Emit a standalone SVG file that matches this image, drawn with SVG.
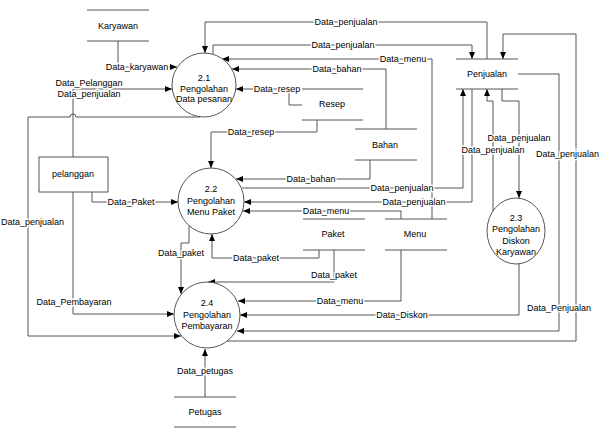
<svg xmlns="http://www.w3.org/2000/svg" width="600" height="434" viewBox="0 0 600 434">
<style>
text{font-family:"Liberation Sans",Arial,sans-serif;font-size:9px;fill:#000;text-anchor:middle}
.lbl{paint-order:stroke;stroke:#fff;stroke-width:3px;stroke-linejoin:round}
.c{fill:none;stroke:#555;stroke-width:1}
.p{fill:#fff;stroke:#555;stroke-width:1}
.s{stroke:#555;stroke-width:1}
</style>
<defs>
<marker id="a" markerUnits="userSpaceOnUse" markerWidth="8" markerHeight="8" viewBox="0 0 8 8" refX="7" refY="4" orient="auto">
<path d="M0,1 L7,4 L0,7 Z" fill="#000"/>
</marker>
</defs>
<rect width="600" height="434" fill="#fff"/>
<g id="connectors">
<path class="c" marker-end="url(#a)" d="M118,41 V67 H177"/>
<path class="c" marker-end="url(#a)" d="M73,157 V89 H172"/>
<path class="c" marker-end="url(#a)" d="M200,117 H76 A3,3 0 0 0 70,117 H28 V336 H181"/>
<path class="c" marker-end="url(#a)" d="M73,192 V314 H174"/>
<path class="c" marker-end="url(#a)" d="M92,192 V202 H178"/>
<path class="c" marker-end="url(#a)" d="M487,59 V22 H205 V53"/>
<path class="c" marker-end="url(#a)" d="M213,54 V45 H472 V59"/>
<path class="c" marker-end="url(#a)" d="M432,219 V59 H222"/>
<path class="c" marker-end="url(#a)" d="M386,129 V69 H232"/>
<path class="c" marker-end="url(#a)" d="M302,105 H289 V89 H236"/>
<path class="c" marker-end="url(#a)" d="M317,120 V132 H211 V168"/>
<path class="c" marker-end="url(#a)" d="M370,160 V179 H236"/>
<path class="c" marker-end="url(#a)" d="M242,188 H463 V89"/>
<path class="c" marker-end="url(#a)" d="M472,89 V202 H244"/>
<path class="c" marker-end="url(#a)" d="M401,219 V211 H243"/>
<path class="c" marker-end="url(#a)" d="M319,250 V258 H212 V234"/>
<path class="c" marker-end="url(#a)" d="M334,250 V282 H208"/>
<path class="c" marker-end="url(#a)" d="M189,226 V243 H181 V294"/>
<path class="c" marker-end="url(#a)" d="M401,250 V301 H238"/>
<path class="c" marker-end="url(#a)" d="M519,264 V315 H240"/>
<path class="c" marker-end="url(#a)" d="M518,74 H559 V331 H237"/>
<path class="c" marker-end="url(#a)" d="M227,341 H576 V34 H503 V59"/>
<path class="c" marker-end="url(#a)" d="M502,89 V101 H519 V198"/>
<path class="c" marker-end="url(#a)" d="M493,214 V101 H487 V89"/>
<path class="c" marker-end="url(#a)" d="M205,397 V349"/>
<text class="lbl" x="137" y="70">Data_karyawan</text>
<text class="lbl" x="89" y="86">Data_Pelanggan</text>
<text class="lbl" x="89" y="97">Data_penjualan</text>
<text class="lbl" x="1" y="225" style="text-anchor:start">Data_penjualan</text>
<text class="lbl" x="74" y="305">Data_Pembayaran</text>
<text class="lbl" x="131" y="205">Data_Paket</text>
<text class="lbl" x="346" y="25">Data_penjualan</text>
<text class="lbl" x="343" y="48">Data_penjualan</text>
<text class="lbl" x="403" y="62">Data_menu</text>
<text class="lbl" x="337" y="72">Data_bahan</text>
<text class="lbl" x="277" y="92">Data_resep</text>
<text class="lbl" x="251" y="135">Data_resep</text>
<text class="lbl" x="311" y="182">Data_bahan</text>
<text class="lbl" x="402" y="191">Data_penjualan</text>
<text class="lbl" x="414" y="205">Data_penjualan</text>
<text class="lbl" x="326" y="214">Data_menu</text>
<text class="lbl" x="256" y="261">Data_paket</text>
<text class="lbl" x="334" y="278">Data_paket</text>
<text class="lbl" x="181" y="256">Data_paket</text>
<text class="lbl" x="340" y="304">Data_menu</text>
<text class="lbl" x="402" y="318">Data_Diskon</text>
<text class="lbl" x="559" y="311">Data_Penjualan</text>
<text class="lbl" x="599" y="157" style="text-anchor:end">Data_penjualan</text>
<text class="lbl" x="519" y="141">Data_penjualan</text>
<text class="lbl" x="493" y="153">Data_penjualan</text>
<text class="lbl" x="205" y="374">Data_petugas</text>
</g>
<g id="p2_1">
<circle class="p" cx="204" cy="85" r="32"/>
<text x="204" y="81">2.1</text>
<text x="204" y="92">Pengolahan</text>
<text x="204" y="102">Data pesanan</text>
</g>
<g id="p2_2">
<circle class="p" cx="211" cy="201" r="33"/>
<text x="211" y="192">2.2</text>
<text x="211" y="204">Pengolahan</text>
<text x="211" y="215">Menu Paket</text>
</g>
<g id="p2_3">
<ellipse class="p" cx="516" cy="231" rx="29" ry="33"/>
<text x="516" y="221">2.3</text>
<text x="516" y="232">Pengolahan</text>
<text x="516" y="244">Diskon</text>
<text x="516" y="255">Karyawan</text>
</g>
<g id="p2_4">
<circle class="p" cx="207" cy="315" r="33"/>
<text x="207" y="306">2.4</text>
<text x="207" y="318">Pengolahan</text>
<text x="207" y="329">Pembayaran</text>
</g>
<g id="pelanggan">
<rect class="p" x="39" y="157" width="69" height="35"/>
<text x="73" y="177">pelanggan</text>
</g>
<g id="karyawan">
<line class="s" x1="87" y1="10" x2="149" y2="10"/>
<line class="s" x1="87" y1="41" x2="149" y2="41"/>
<text x="118" y="29">Karyawan</text>
</g>
<g id="resep">
<line class="s" x1="302" y1="89" x2="363" y2="89"/>
<line class="s" x1="302" y1="120" x2="363" y2="120"/>
<text x="332" y="107">Resep</text>
</g>
<g id="bahan">
<line class="s" x1="355" y1="129" x2="417" y2="129"/>
<line class="s" x1="355" y1="160" x2="417" y2="160"/>
<text x="385" y="148">Bahan</text>
</g>
<g id="paket">
<line class="s" x1="303" y1="219" x2="365" y2="219"/>
<line class="s" x1="303" y1="250" x2="365" y2="250"/>
<text x="333" y="237">Paket</text>
</g>
<g id="menu">
<line class="s" x1="385" y1="219" x2="447" y2="219"/>
<line class="s" x1="385" y1="250" x2="447" y2="250"/>
<text x="415" y="237">Menu</text>
</g>
<g id="penjualan">
<line class="s" x1="456" y1="59" x2="518" y2="59"/>
<line class="s" x1="456" y1="89" x2="518" y2="89"/>
<text x="487" y="77">Penjualan</text>
</g>
<g id="petugas">
<line class="s" x1="174" y1="397" x2="236" y2="397"/>
<line class="s" x1="174" y1="427" x2="236" y2="427"/>
<text x="205" y="415">Petugas</text>
</g>
</svg>
